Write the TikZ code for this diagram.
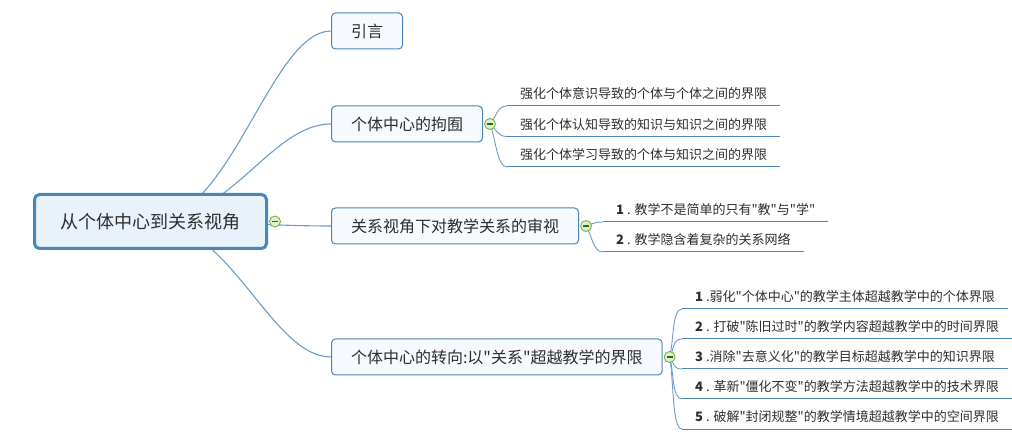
\documentclass[tikz,border=0pt]{standalone}
\usepackage{fontspec}
\newfontfamily\cjkfont{Noto Sans CJK SC}
\usetikzlibrary{calc,backgrounds}

\definecolor{boxline}{HTML}{4A86B8}
\definecolor{rootfill}{HTML}{E9F1FA}
\definecolor{boxfill}{HTML}{F6F9FD}
\definecolor{linkcol}{HTML}{6C9CC6}
\definecolor{txt}{HTML}{2E2E2E}
\definecolor{foldgreen}{HTML}{6AAE3C}
\definecolor{foldfill}{HTML}{DDF0CC}

\newcommand\foldbar{\textcolor{foldgreen!55!black}{\rule[-0.6pt]{6pt}{1.2pt}}}

\tikzset{
  leafcurve/.style={to path={.. controls ($(\tikztostart)!0.35!(\tikztotarget)$)
      and ($(\tikztotarget)+(-10,0)$) .. (\tikztotarget)}},
}

\begin{document}
\begin{tikzpicture}[x=1pt,y=-1pt,
    rootbox/.style={draw=boxline, fill=rootfill, line width=3pt, rounded corners=5pt,
      minimum width=232pt, minimum height=54pt, font=\cjkfont\fontsize{18}{22}\selectfont, text=txt},
    topic/.style={draw=boxline, fill=boxfill, line width=1pt, rounded corners=4pt,
      minimum height=36pt, inner xsep=19.5pt, anchor=west,
      font=\cjkfont\fontsize{16}{19}\selectfont, text=txt},
    leaf/.style={anchor=south west, inner xsep=13pt, inner ysep=4.5pt,
      text height=10pt, text depth=2.5pt, font=\cjkfont\fontsize{13}{16}\selectfont, text=txt},
    fold/.style={circle, draw=foldgreen, fill=foldfill, line width=0.8pt,
      minimum size=11pt, inner sep=0pt},
    link/.style={draw=linkcol, line width=1.1pt},
    sublink/.style={draw=linkcol, line width=0.9pt},
    uline/.style={draw=boxline, line width=1pt},
  ]
  \useasboundingbox (0,0) rectangle (1012,435);

  % central topic and main branches
  \node[rootbox] (root) at (150.5,221.5) {从个体中心到关系视角};
  \node[topic] (intro) at (331,31) {引言};
  \node[topic] (self) at (331,124) {个体中心的拘囿};
  \node[topic] (view) at (331,226) {关系视角下对教学关系的审视};
  \node[topic] (turn) at (331,357) {个体中心的转向:以"关系"超越教学的界限};

  \node[fold] (f0) at ($(root.east)+(7,0)$) {\foldbar};
  \node[fold] (f1) at ($(self.east)+(7,0)$) {\foldbar};
  \node[fold] (f2) at ($(view.east)+(7,0)$) {\foldbar};
  \node[fold] (f3) at ($(turn.east)+(7,0)$) {\foldbar};

  % leaves
  \node[leaf] (s1) at (507,106) {强化个体意识导致的个体与个体之间的界限};
  \node[leaf] (s2) at (507,136.5) {强化个体认知导致的知识与知识之间的界限};
  \node[leaf] (s3) at (507,167) {强化个体学习导致的个体与知识之间的界限};

  \node[leaf] (v1) at (603,222) {\textbf{1} . 教学不是简单的只有"教"与"学"};
  \node[leaf] (v2) at (603,252) {\textbf{2} . 教学隐含着复杂的关系网络};

  \node[leaf] (t1) at (682,309) {\textbf{1} .弱化"个体中心"的教学主体超越教学中的个体界限};
  \node[leaf] (t2) at (682,339) {\textbf{2} . 打破"陈旧过时"的教学内容超越教学中的时间界限};
  \node[leaf] (t3) at (682,369) {\textbf{3} .消除"去意义化"的教学目标超越教学中的知识界限};
  \node[leaf] (t4) at (682,399) {\textbf{4} . 革新"僵化不变"的教学方法超越教学中的技术界限};
  \node[leaf] (t5) at (682,429) {\textbf{5} . 破解"封闭规整"的教学情境超越教学中的空间界限};

  \begin{scope}[on background layer]
    \draw[link] (root.center) .. controls +(80,0) and +(-60,0) .. (intro.west);
    \draw[link] (root.center) .. controls +(80,0) and +(-60,0) .. (self.west);
    \draw[link] (root.center) .. controls +(80,0) and +(-60,0) .. (view.west);
    \draw[link] (root.center) .. controls +(80,0) and +(-60,0) .. (turn.west);
    \foreach \l in {s1,s2,s3}
      \draw[sublink] (f1.center) to[leafcurve] (\l.south west);
    \foreach \l in {v1,v2}
      \draw[sublink] (f2.center) to[leafcurve] (\l.south west);
    \foreach \l in {t1,t2,t3,t4,t5}
      \draw[sublink] (f3.center) to[leafcurve] (\l.south west);
  \end{scope}
  \foreach \l in {s1,s2,s3,v1,v2,t1,t2,t3,t4,t5}
    \draw[uline] (\l.south west) -- (\l.south east);
\end{tikzpicture}
\end{document}
